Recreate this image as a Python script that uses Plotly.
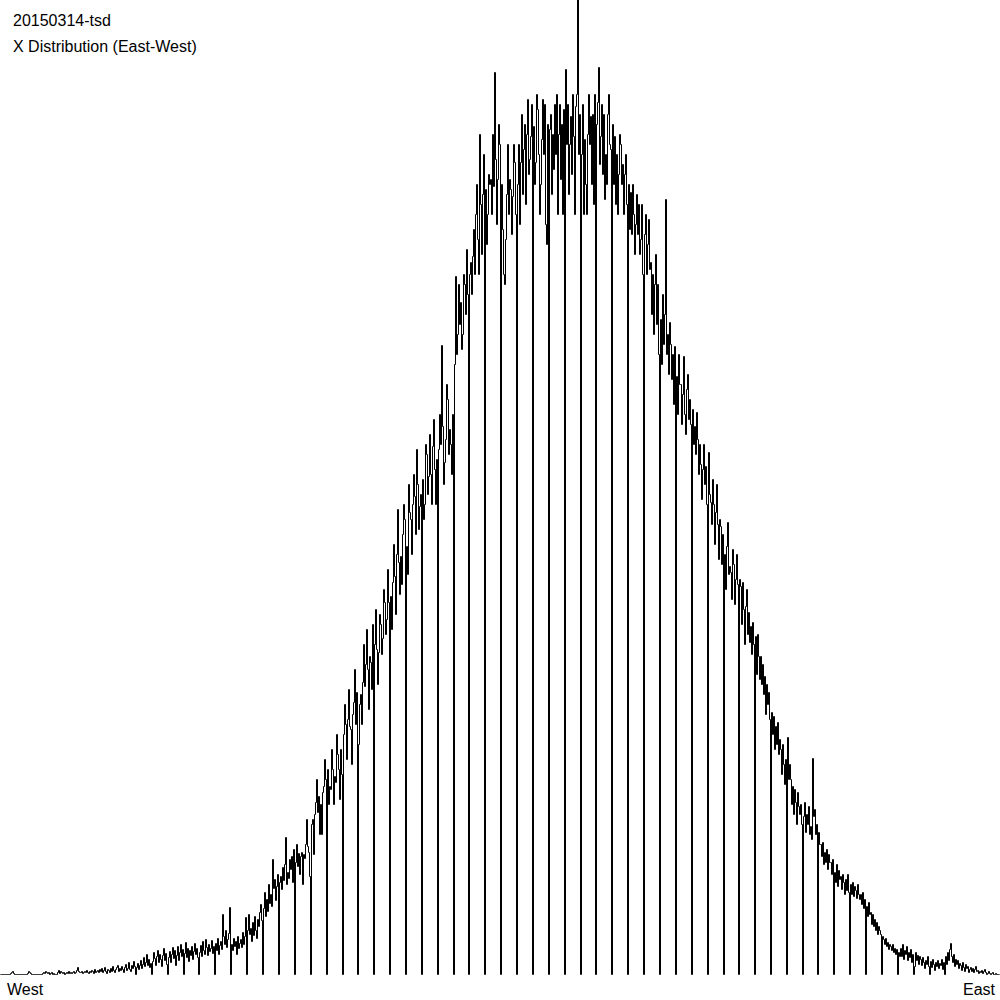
import plotly.graph_objects as go

# Counts per east-west bin (1 bin per pixel column)
west_tail = [
    0,0,0,0,0,0,0,0,0,0,
    1,2,3,1,0,0,0,0,0,0,
    0,0,0,0,0,0,0,1,3,2,
    1,0,0,0,0,0,0,0,0,0,
    0,0,1,2,1,3,2,1,2,0,
    1,2,0,1,0,0,0,2,4,1,
    3,2,1,2,0,1,2,1,3,1,
    2,1,2,3,1,2,4,7,3,2,
    2,3,1,2,3,2,4,2,1,3,
    2,4,3,1,5,2,3,4,2,5,
    3,6,2,4,7,3,1,5,4,2,
    6,3,8,4,2,5,7,9,3,6,
    4,8,5,2,7,10,4,6,12,5,
    3,9,6,13,8,0,7,11,5,9,
    14,6,10,17,8,12,20,9,15,7,
]

rise = [
    11,0,13,22,16,9,18,24,12,20,
    15,8,19,26,14,21,10,0,17,23,
    12,20,27,16,24,9,19,28,14,22,
    30,18,25,0,21,32,17,26,13,24,
    19,28,15,23,31,20,26,17,0,22,
    29,18,33,24,20,35,27,19,30,23,
    26,34,21,28,0,31,24,36,20,29,
    33,25,60,38,30,44,27,35,41,67,
    0,30,24,36,28,33,20,38,26,31,
    35,27,42,30,38,57,0,44,60,40,
    46,33,52,39,58,44,36,55,48,62,
    70,54,0,66,82,58,75,63,90,71,
    80,68,115,86,95,74,88,100,0,92,
    98,85,107,94,110,137,90,102,96,115,
    105,118,92,125,0,112,130,108,121,100,
    118,122,90,120,116,130,155,128,122,98,
    0,150,155,120,160,172,195,162,178,140,
    170,140,182,188,215,195,0,205,170,188,
    185,225,205,170,198,192,240,220,205,175,
    225,200,0,240,270,250,215,255,285,248,
    245,210,260,272,305,250,282,0,230,270,
    280,250,292,330,288,310,345,305,265,318,
    312,285,350,0,330,365,325,290,322,360,
    350,320,336,385,372,340,355,405,372,0,
    378,345,392,430,398,360,420,465,412,380,
    418,390,440,470,455,0,428,400,490,462,
    455,420,470,500,478,440,525,490,445,468,
    480,0,495,455,470,530,520,480,498,540,
    500,470,528,555,505,470,515,0,525,560,
    530,629,548,490,512,535,590,575,520,545,
]

peak = [
    530,500,560,0,610,698,620,640,690,650,
    672,625,640,700,690,660,725,680,0,700,
    712,680,718,745,700,760,790,735,700,840,
    770,720,780,820,0,785,730,760,800,790,
    795,760,840,788,902,815,750,795,850,830,
    0,790,745,700,690,735,780,830,760,795,
    785,740,778,830,812,760,0,790,830,750,
    812,860,780,825,850,770,840,875,800,815,
    838,870,0,848,790,812,880,865,820,760,
    790,835,875,820,870,750,730,850,0,845,
    860,780,840,805,870,820,880,760,840,870,
    795,850,760,865,0,905,830,870,780,830,
    858,800,880,838,760,868,880,975,820,860,
    0,820,870,760,835,790,760,840,880,830,
    858,790,860,770,880,0,850,872,907,810,
    838,870,800,860,775,820,790,860,880,830,
    825,0,850,790,838,770,820,760,800,840,
    830,790,810,760,800,820,770,0,790,745,
    782,740,790,760,720,750,780,740,770,720,
    735,770,700,0,740,760,700,730,755,705,
]

fall = [
    712,660,700,640,690,720,650,690,620,0,
    655,610,680,630,660,775,620,640,600,652,
    630,595,620,570,628,0,598,560,620,590,
    590,550,580,618,560,540,585,600,555,575,
    550,0,565,530,548,520,562,535,500,530,
    510,475,505,530,490,508,470,0,522,480,
    472,450,495,470,430,462,490,450,415,455,
    448,410,440,0,420,385,428,452,400,408,
    402,375,425,410,370,395,420,390,0,395,
    388,350,392,365,330,368,385,340,362,332,
    348,320,352,330,0,338,300,340,318,295,
    318,290,310,280,298,260,290,270,282,255,
    0,262,240,258,225,248,230,252,220,235,
    225,200,230,210,190,215,0,237,195,210,
    195,170,188,160,185,172,150,182,168,160,
    170,150,0,158,172,142,160,150,168,140,
    148,135,216,158,165,140,150,0,142,130,
    130,118,132,110,122,112,125,105,120,112,
    112,100,115,0,102,92,110,88,104,95,
    98,85,100,92,80,95,84,100,82,0,
    90,80,92,78,88,84,76,90,80,75,
    80,70,82,66,75,0,68,58,72,60,
    62,50,60,48,55,44,52,40,48,44,
    40,0,38,35,30,36,28,32,25,30,
    28,24,30,22,26,20,25,0,22,18,
]

east_tail = [
    26,18,30,15,24,20,28,14,22,17,
    25,12,20,0,8,22,14,19,10,18,
    15,9,17,12,6,14,10,18,8,0,
    13,7,15,10,4,12,8,14,6,11,
    9,15,5,12,0,18,10,22,14,25,
    31,18,12,20,8,15,10,14,6,11,
    9,4,12,7,3,10,6,8,2,5,
    7,3,6,2,5,8,3,4,1,3,
    2,4,1,3,5,2,0,1,3,1,
    0,1,2,0,0,1,0,0,0,0,
]

title_lines = ["20150314-tsd", "X Distribution (East-West)"]
west_label = "West"
east_label = "East"

counts = west_tail + rise + peak + fall + east_tail
bins = list(range(len(counts)))

fig = go.Figure()
fig.add_trace(go.Scatter(
    x=bins, y=counts, mode="lines",
    line=dict(color="black", width=1, shape="hv"),
    hoverinfo="skip", showlegend=False,
))

W, H = 1000, 1000
ml, mr, mt, mb = 0, 0, 0, 23
plot_h = H - mt - mb

def py(pixel_y):
    return (plot_h - pixel_y) / plot_h

font = dict(family="Liberation Sans, Arial, sans-serif", size=16, color="black")
annotations = [
    dict(text=title_lines[0], x=0.011, y=py(20.5), xref="paper", yref="paper",
         xanchor="left", yanchor="middle", showarrow=False, font=font),
    dict(text=title_lines[1], x=0.011, y=py(46), xref="paper", yref="paper",
         xanchor="left", yanchor="middle", showarrow=False, font=font),
    dict(text=west_label, x=0.005, y=py(989), xref="paper", yref="paper",
         xanchor="left", yanchor="middle", showarrow=False, font=font),
    dict(text=east_label, x=0.998, y=py(989), xref="paper", yref="paper",
         xanchor="right", yanchor="middle", showarrow=False, font=font),
]

fig.update_layout(
    width=W, height=H,
    margin=dict(l=ml, r=mr, t=mt, b=mb, pad=0),
    paper_bgcolor="white", plot_bgcolor="white",
    xaxis=dict(visible=False, range=[-0.5, len(counts) - 0.5], fixedrange=True),
    yaxis=dict(visible=False, range=[-2.5, 974.5], fixedrange=True),
    annotations=annotations,
    showlegend=False,
)

fig.write_html(
    "out.html",
    config={"displayModeBar": False},
    post_script="document.body.style.margin='0';document.body.style.overflow='hidden';",
)
